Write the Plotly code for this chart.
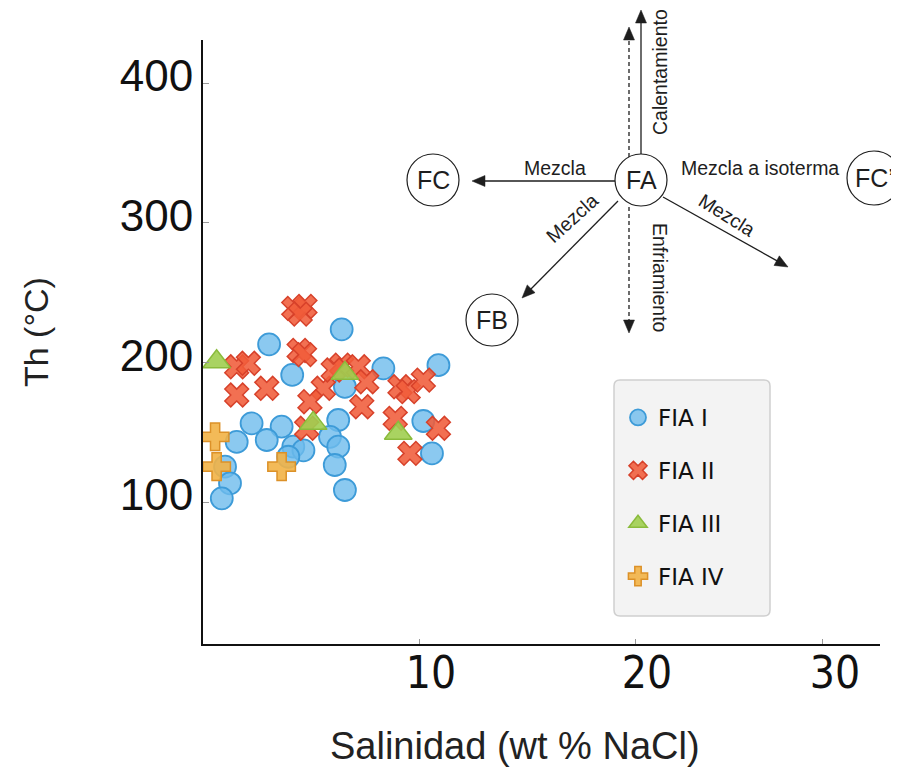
import math
import plotly.graph_objects as go

# ---------------- data ----------------
fia1_sal = [6.42, 3.06, 10.9, 8.35, 4.13, 6.57, 2.25, 3.64, 6.26, 10.2, 1.56, 2.95,
            4.18, 4.65, 5.88, 6.26, 10.6, 3.95, 6.10, 1.02, 1.25, 0.87, 6.57]
fia1_th = [223.6, 212.9, 198.0, 195.7, 191.0, 182.5, 156.3, 154.0, 158.7, 158.0, 143.0, 144.4,
           139.6, 137.0, 146.7, 139.6, 134.8, 132.4, 126.5, 125.3, 113.4, 102.6, 108.6]

fia2_sal = [4.20, 4.72, 4.50, 4.45, 4.70, 1.56, 2.10, 1.56, 2.95, 6.42, 7.19, 7.58,
            5.57, 4.95, 7.35, 9.12, 9.50, 10.2, 8.90, 10.9, 9.58, 4.80, 6.03]
fia2_th = [238.6, 240.0, 234.5, 208.5, 205.5, 196.8, 199.3, 176.6, 181.4, 198.0, 196.8, 186.1,
           181.4, 171.8, 168.2, 182.5, 179.0, 187.3, 159.9, 152.8, 134.8, 152.8, 194.5]

fia3_sal = [0.63, 6.57, 5.10, 9.04]
fia3_th = [200.4, 192.1, 156.3, 149.2]

fia4_sal = [0.56, 0.63, 3.64]
fia4_th = [146.7, 125.3, 125.3]

series_names = ["FIA I", "FIA II", "FIA III", "FIA IV"]

x_tickvals = [10, 20, 28.7]
x_ticktext = ["10", "20", "30"]
y_tickvals = [100, 200, 300, 400]
y_ticktext = ["100", "200", "300", "400"]

# ---------------- layout geometry (page pixels) ----------------
OFF = 8                      # default page margin around the figure div
PAGE_W, PAGE_H = 899, 777
W_FIG, H_FIG = PAGE_W - OFF, PAGE_H - OFF
L, R, T, B = 203, 880, 40, 644
PW, PH = R - L, B - T


def px(x):
    return (x - L) / PW


def py(y):
    return (B - y) / PH


fig = go.Figure()

fig.add_trace(go.Scatter(
    x=fia1_sal, y=fia1_th, mode="markers", name=series_names[0], legendgroup="a",
    marker=dict(symbol="circle", size=22, color="rgba(110,188,236,0.80)",
                line=dict(color="#3d9bd8", width=1.8))))
fig.add_trace(go.Scatter(
    x=fia2_sal, y=fia2_th, mode="markers", name=series_names[1], legendgroup="b",
    marker=dict(symbol="x", size=21, color="rgba(240,92,58,0.88)",
                line=dict(color="#d7412a", width=1.5))))
fig.add_trace(go.Scatter(
    x=fia3_sal, y=fia3_th, mode="markers", name=series_names[2], legendgroup="c",
    marker=dict(symbol="triangle-up", size=24, color="rgba(160,206,80,0.9)",
                line=dict(color="#8abb3c", width=1.5))))
fig.add_trace(go.Scatter(
    x=fia4_sal, y=fia4_th, mode="markers", name=series_names[3], legendgroup="d",
    marker=dict(symbol="cross", size=23, color="rgba(242,178,70,0.9)",
                line=dict(color="#dc9128", width=1.5))))

shapes = []
annotations = []

# legend box (rounded)
bx0, bx1, by0, by1, rr = 614, 770, 380, 616, 6
path = (f"M {px(bx0+rr)},{py(by0)} L {px(bx1-rr)},{py(by0)} "
        f"Q {px(bx1)},{py(by0)} {px(bx1)},{py(by0+rr)} "
        f"L {px(bx1)},{py(by1-rr)} Q {px(bx1)},{py(by1)} {px(bx1-rr)},{py(by1)} "
        f"L {px(bx0+rr)},{py(by1)} Q {px(bx0)},{py(by1)} {px(bx0)},{py(by1-rr)} "
        f"L {px(bx0)},{py(by0+rr)} Q {px(bx0)},{py(by0)} {px(bx0+rr)},{py(by0)} Z")
shapes.append(dict(type="path", xref="paper", yref="paper", path=path,
                   fillcolor="#f3f3f3", line=dict(color="#cfcfcf", width=1.5), layer="below"))

# ---------------- schematic diagram ----------------
INK = "#1e1e1e"


def arrow(x0, y0, x1, y1, dash="solid"):
    dx, dy = x1 - x0, y1 - y0
    n = math.hypot(dx, dy)
    ux, uy = dx / n, dy / n
    hl, hw = 13, 5.5
    bxp, byp = x1 - ux * hl, y1 - uy * hl
    shapes.append(dict(type="line", xref="paper", yref="paper",
                       x0=px(x0), y0=py(y0), x1=px(bxp + ux * 2), y1=py(byp + uy * 2),
                       line=dict(color=INK, width=1.3, dash=dash)))
    p1 = (bxp - uy * hw, byp + ux * hw)
    p2 = (bxp + uy * hw, byp - ux * hw)
    shapes.append(dict(type="path", xref="paper", yref="paper",
                       path=f"M {px(x1)},{py(y1)} L {px(p1[0])},{py(p1[1])} L {px(p2[0])},{py(p2[1])} Z",
                       fillcolor=INK, line=dict(color=INK, width=0.5)))


def node(cx, cy, r, label):
    shapes.append(dict(type="circle", xref="paper", yref="paper",
                       x0=px(cx - r), x1=px(cx + r), y0=py(cy + r), y1=py(cy - r),
                       fillcolor="white", line=dict(color=INK, width=1.2)))
    annotations.append(dict(xref="paper", yref="paper", x=px(cx), y=py(cy), text=label,
                            showarrow=False, xanchor="center", yanchor="middle",
                            font=dict(family="Liberation Sans, Arial", size=25, color=INK)))


def label(x, y, text, angle=0, size=19.5):
    annotations.append(dict(xref="paper", yref="paper", x=px(x), y=py(y), text=text,
                            showarrow=False, xanchor="center", yanchor="middle", textangle=angle,
                            font=dict(family="Liberation Sans, Arial", size=size, color=INK)))


arrow(641, 154, 641, 10)
arrow(629, 157, 629, 27, dash="4px,3px")
arrow(629, 207, 629, 333, dash="4px,3px")
arrow(615, 181, 472, 181)
arrow(618, 201, 522, 298)
arrow(663, 197, 788, 267)

node(641, 180, 26, "FA")
node(433, 180, 26, "FC")
node(492, 320, 26, "FB")
node(874, 178, 27, "FC’")

label(660, 72, "Calentamiento", -90)
label(660, 278, "Enfriamiento", 90)
label(555, 168, "Mezcla")
label(760, 168, "Mezcla a isoterma")
label(572, 218, "Mezcla", -42)
label(727, 215, "Mezcla", 32)

# axis titles
annotations.append(dict(xref="paper", yref="paper", x=px(515), y=py(746), text="Salinidad (wt % NaCl)",
                        showarrow=False, xanchor="center", yanchor="middle",
                        font=dict(family="Liberation Sans, Arial", size=38, color="#222")))
annotations.append(dict(xref="paper", yref="paper", x=px(36), y=py(332), text="Th (°C)",
                        showarrow=False, xanchor="center", yanchor="middle", textangle=-90,
                        font=dict(family="Liberation Sans, Arial", size=34, color="#222")))

x0v = 0.0
x_per_px = 10.0 / (419 - 203)
y_per_px = 300.0 / (502 - 83)
fig.update_layout(
    width=W_FIG, height=H_FIG,
    margin=dict(l=L - OFF, r=PAGE_W - R, t=T - OFF, b=PAGE_H - B, pad=0),
    paper_bgcolor="white", plot_bgcolor="white",
    shapes=shapes, annotations=annotations,
    showlegend=True,
    legend=dict(x=px(618), y=py(396), xanchor="left", yanchor="top",
                bgcolor="rgba(0,0,0,0)", borderwidth=0, tracegroupgap=20,
                itemsizing="trace",
                font=dict(family="DejaVu Sans", size=23, color="#111")),
    xaxis=dict(range=[x0v, x0v + PW * x_per_px], tickvals=x_tickvals, ticktext=x_ticktext,
               showgrid=False, zeroline=False, showline=True, linecolor="#111", linewidth=2,
               ticks="inside", ticklen=5, tickcolor="#999", tickwidth=1,
               ticklabelshift=12, ticklabelstandoff=-11,
               tickfont=dict(family="Liberation Sans Narrow, DejaVu Sans Condensed, Liberation Sans", size=44, color="#111")),
    yaxis=dict(range=[100 - (B - 502) * y_per_px, 100 + (502 - T) * y_per_px],
               tickvals=y_tickvals, ticktext=y_ticktext,
               showgrid=False, zeroline=False, showline=True, linecolor="#111", linewidth=2,
               ticks="inside", ticklen=6, tickcolor="#999", tickwidth=1,
               ticklabelshift=-7, ticklabelstandoff=-1,
               tickfont=dict(family="Liberation Sans, Arial", size=44, color="#111")),
)

fig.write_html("out.html")
